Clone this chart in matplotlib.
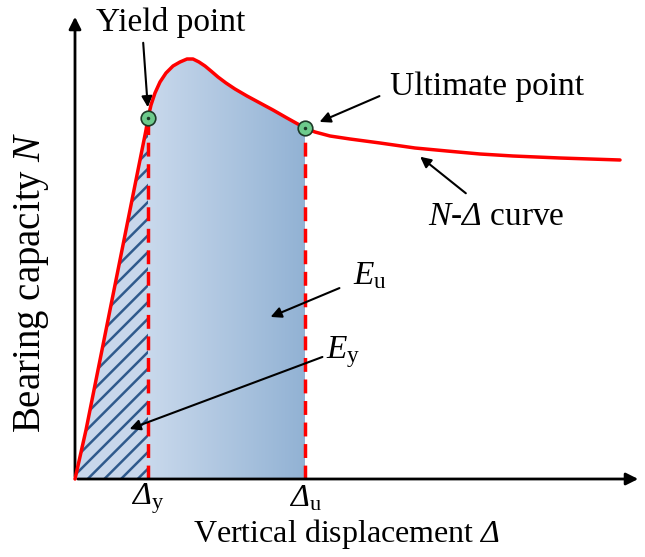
import numpy as np
import matplotlib
matplotlib.use("Agg")
import matplotlib.pyplot as plt
from matplotlib.patches import Polygon
from matplotlib.colors import LinearSegmentedColormap

plt.rcParams["font.family"] = ["Liberation Serif", "DejaVu Serif"]
plt.rcParams["mathtext.fontset"] = "custom"
plt.rcParams["mathtext.rm"] = "Liberation Serif"
plt.rcParams["mathtext.it"] = "Liberation Serif:italic"
# sf slot is used for the slanted capital Delta
plt.rcParams["mathtext.sf"] = "Liberation Serif:italic"
plt.rcParams["hatch.linewidth"] = 1.8

# ---------- DATA (schematic N-Delta curve) ----------
disp = [0, 11, 21, 31, 41, 51, 60, 67, 71, 73, 76, 80, 85, 91, 98, 105, 112,
        118, 124, 130, 136, 143, 151, 160, 172, 185, 198, 212, 230, 240,
        255, 275, 305, 340, 372, 405, 438, 485, 545]
load = [0, 49, 99, 149, 199, 249, 294, 329, 349, 361, 374, 386, 397, 406, 413,
        417, 420, 420, 417, 413, 408, 402, 396, 390, 383, 376, 369, 361,
        351, 347, 343, 340, 336, 331, 328, 325, 323, 321, 319]
i_yield = 9
i_ult = 28
disp_y, load_y = disp[i_yield], load[i_yield]
disp_u, load_u = disp[i_ult], load[i_ult]

RED = "#ff0000"
HATCH_BLUE = "#2f5a8c"

fig = plt.figure(figsize=(6.45, 5.57), dpi=100)
ax = fig.add_axes([0, 0, 1, 1])
ax.set_xlim(-75, 570)
ax.set_ylim(-78, 479)
ax.axis("off")

# ---------- AREAS ----------
# E_y : hatched area up to yield
pts_y = [(0, 0)] + list(zip(disp[:i_yield + 1], load[:i_yield + 1])) + [(disp_y, 0)]
ax.add_patch(Polygon(pts_y, closed=True, facecolor="#c8d7eb", edgecolor=HATCH_BLUE,
                     hatch="//", linewidth=0, zorder=1))

# E_u : gradient area from yield to ultimate
pts_u = [(disp_y, 0)] + list(zip(disp[i_yield:i_ult + 1], load[i_yield:i_ult + 1])) + [(disp_u, 0)]
clip = Polygon(pts_u, closed=True, facecolor="none", edgecolor="none")
ax.add_patch(clip)
cmap = LinearSegmentedColormap.from_list("blu", ["#c9d9ec", "#92b2d4"])
grad = np.linspace(0, 1, 256).reshape(1, -1)
img = ax.imshow(grad, cmap=cmap, aspect="auto", origin="lower",
                extent=[disp_y, disp_u, 0, max(load)], zorder=1)
img.set_clip_path(clip)

# dashed verticals
ax.plot([disp_y, disp_y], [0, load_y], color=RED, lw=2.5, ls=(0, (4, 2.2)), zorder=3)
ax.plot([disp_u, disp_u], [0, load_u], color=RED, lw=2.5, ls=(0, (4, 2.2)), zorder=3)

# curve
ax.plot(disp, load, color=RED, lw=2.5, zorder=4, solid_capstyle="round",
        solid_joinstyle="round")

# key points
for x, y in [(disp_y, load_y), (disp_u, load_u)]:
    ax.plot(x, y, "o", ms=10.5, mfc="#6dcb8c", mec="#1d3a28", mew=1.2, zorder=5)
    ax.plot(x, y, "o", ms=1.5, color="#1d3a28", zorder=6)

# ---------- AXES ARROWS ----------
ax.annotate("", xy=(566, 0), xytext=(0, 0),
            arrowprops=dict(arrowstyle="-|>", color="black", lw=2, mutation_scale=18))
ax.annotate("", xy=(0, 465), xytext=(0, 0),
            arrowprops=dict(arrowstyle="-|>", color="black", lw=2, mutation_scale=18))

# ---------- LABELS ----------
ax.text(-43, 197, r"Bearing capacity $\mathit{N}$", rotation=90, fontsize=28,
        ha="center", va="center")
ax.text(272, -55, r"Vertical displacement $\mathsf{\Delta}$", fontsize=23,
        ha="center", va="center")
ax.text(disp_y, -20, r"$\mathsf{\Delta}_\mathrm{y}$", fontsize=23, ha="center", va="center")
ax.text(disp_u, -20, r"$\mathsf{\Delta}_\mathrm{u}$", fontsize=23, ha="center", va="center")

arrow = dict(arrowstyle="-|>", color="black", lw=1.5, mutation_scale=16)
ax.text(96, 457, "Yield point", fontsize=24, ha="center", va="center")
ax.annotate("", xy=(disp_y, load_y + 8), xytext=(68, 439), arrowprops=arrow)
ax.text(412, 392, "Ultimate point", fontsize=24, ha="center", va="center")
ax.annotate("", xy=(242, 356), xytext=(307, 384), arrowprops=arrow)
ax.text(421, 262, r"$\mathit{N}$-$\mathsf{\Delta}$ curve", fontsize=24, ha="center", va="center")
ax.annotate("", xy=(343, 324), xytext=(393, 284), arrowprops=arrow)
ax.text(295, 203, r"$\mathit{E}_\mathrm{u}$", fontsize=24, ha="center", va="center")
ax.annotate("", xy=(193, 161), xytext=(267, 192), arrowprops=arrow)
ax.text(268, 127, r"$\mathit{E}_\mathrm{y}$", fontsize=24, ha="center", va="center")
ax.annotate("", xy=(52, 49), xytext=(250, 123), arrowprops=arrow)

fig.savefig("out.png", dpi=100)
